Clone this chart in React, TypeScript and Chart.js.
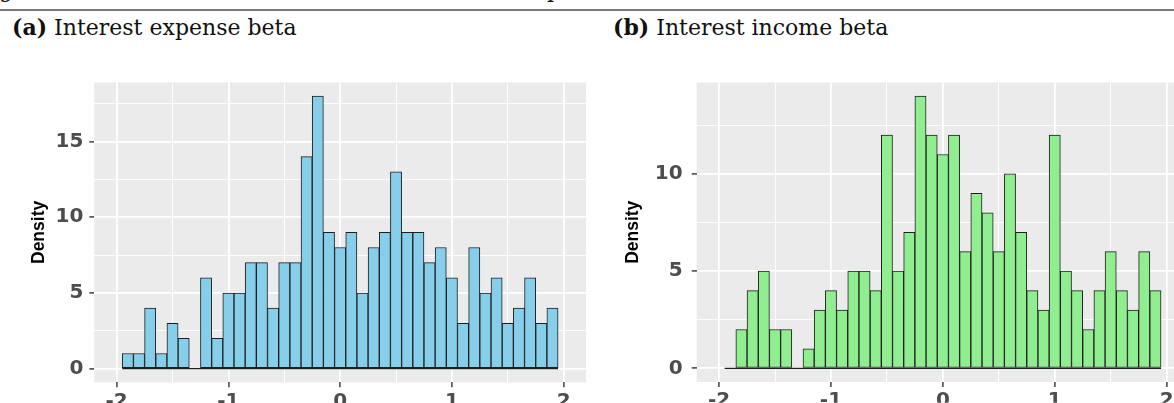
import React, { useEffect, useRef } from 'react';
import { Chart, registerables } from 'chart.js';

Chart.register(...registerables);

// ---- data ----
const binCenters = [
  -1.9, -1.8, -1.7, -1.6, -1.5, -1.4, -1.3, -1.2, -1.1, -1.0,
  -0.9, -0.8, -0.7, -0.6, -0.5, -0.4, -0.3, -0.2, -0.1, 0.0,
  0.1, 0.2, 0.3, 0.4, 0.5, 0.6, 0.7, 0.8, 0.9, 1.0,
  1.1, 1.2, 1.3, 1.4, 1.5, 1.6, 1.7, 1.8, 1.9,
];
const binWidth = 0.1;
const expenseCounts = [
  1, 1, 4, 1, 3, 2, 0, 6, 2, 5,
  5, 7, 7, 4, 7, 7, 14, 18, 9, 8,
  9, 5, 8, 9, 13, 9, 9, 7, 8, 6,
  3, 8, 5, 6, 3, 4, 6, 3, 4,
];
const incomeCounts = [
  0, 2, 4, 5, 2, 2, 0, 1, 3, 4,
  3, 5, 5, 4, 12, 5, 7, 14, 12, 11,
  12, 6, 9, 8, 6, 10, 7, 4, 3, 12,
  5, 4, 2, 4, 6, 4, 3, 6, 4,
];
const xGridValues = [-2, -1.5, -1, -0.5, 0, 0.5, 1, 1.5, 2];
const xMajorTicks = [-2, -1, 0, 1, 2];
const expenseYGrid = [0, 2.5, 5, 7.5, 10, 12.5, 15, 17.5];
const expenseYMajor = [0, 5, 10, 15];
const incomeYGrid = [0, 2.5, 5, 7.5, 10, 12.5];
const incomeYMajor = [0, 5, 10];
const yTitle = 'Density';

const TICK_FONT = "'DejaVu Sans', 'Liberation Sans', sans-serif";
const TITLE_FONT = "'Liberation Sans', Arial, sans-serif";
const SERIF = "'DejaVu Serif', serif";

const panelPlugin = {
  id: 'panelBg',
  beforeDraw(chart: any) {
    const { ctx, chartArea: a } = chart;
    ctx.save();
    ctx.fillStyle = '#EBEBEB';
    ctx.fillRect(a.left, a.top, a.right - a.left, a.bottom - a.top);
    ctx.restore();
  },
};

const baselinePlugin = {
  id: 'histBaseline',
  afterDatasetsDraw(chart: any) {
    const { ctx } = chart;
    const xs = chart.scales.x;
    const ys = chart.scales.y;
    const x0 = xs.getPixelForValue(binCenters[0] - binWidth / 2);
    const x1 = xs.getPixelForValue(binCenters[binCenters.length - 1] + binWidth / 2);
    const y = ys.getPixelForValue(0);
    ctx.save();
    ctx.strokeStyle = '#1E1E1E';
    ctx.lineWidth = 1.4;
    ctx.beginPath();
    ctx.moveTo(x0, y);
    ctx.lineTo(x1, y);
    ctx.stroke();
    ctx.restore();
  },
};

type HistProps = {
  counts: number[];
  color: string;
  yMin: number;
  yMax: number;
  yGrid: number[];
  yMajor: number[];
  width: number;
  height: number;
  yAxisWidth: number;
  padTop: number;
  padRight: number;
  xAxisHeight: number;
  titlePad: number;
  yTickPad: number;
};

function Histogram(p: HistProps) {
  const ref = useRef<HTMLCanvasElement>(null);
  useEffect(() => {
    const chart = new Chart(ref.current as HTMLCanvasElement, {
      type: 'bar',
      data: {
        datasets: [
          {
            data: binCenters.map((c, i) => ({ x: c, y: p.counts[i] })),
            backgroundColor: p.color,
            borderColor: '#1E1E1E',
            borderWidth: 1,
            borderSkipped: false,
            barPercentage: 1,
            categoryPercentage: 1,
          } as any,
        ],
      },
      options: {
        animation: false,
        responsive: false,
        devicePixelRatio: 1,
        events: [],
        layout: { padding: { left: 0, top: p.padTop, right: p.padRight, bottom: 0 } },
        plugins: { legend: { display: false }, tooltip: { enabled: false } },
        scales: {
          x: {
            type: 'linear',
            min: -2.2,
            max: 2.2,
            offset: false,
            afterBuildTicks: (s: any) => {
              s.ticks = xGridValues.map((v) => ({ value: v }));
            },
            afterFit: (s: any) => {
              s.height = p.xAxisHeight;
            },
            border: { display: false },
            grid: {
              offset: false,
              color: '#FFFFFF',
              lineWidth: (c: any) => (xMajorTicks.includes(c.tick?.value) ? 1.8 : 0.9),
              drawTicks: true,
              tickLength: 5,
              tickWidth: 1.4,
              tickColor: (c: any) => (xMajorTicks.includes(c.tick?.value) ? '#333333' : 'rgba(0,0,0,0)'),
            },
            ticks: {
              autoSkip: false,
              maxRotation: 0,
              padding: 2,
              color: '#4D4D4D',
              font: { family: TICK_FONT, size: 20, weight: 'bold', lineHeight: 1.2 },
              callback: (v: any) => (xMajorTicks.includes(Number(v)) ? String(v) : ''),
            },
          },
          y: {
            type: 'linear',
            min: p.yMin,
            max: p.yMax,
            afterBuildTicks: (s: any) => {
              s.ticks = p.yGrid.map((v) => ({ value: v }));
            },
            afterFit: (s: any) => {
              s.width = p.yAxisWidth;
            },
            border: { display: false },
            grid: {
              color: '#FFFFFF',
              lineWidth: (c: any) => (p.yMajor.includes(c.tick?.value) ? 1.8 : 0.9),
              drawTicks: true,
              tickLength: 5,
              tickWidth: 1.4,
              tickColor: (c: any) => (p.yMajor.includes(c.tick?.value) ? '#333333' : 'rgba(0,0,0,0)'),
            },
            title: {
              display: true,
              text: yTitle,
              color: '#000000',
              padding: { top: p.titlePad, bottom: 0 },
              font: { family: TITLE_FONT, size: 17.5, weight: 'bold', lineHeight: 1.2 },
            },
            ticks: {
              autoSkip: false,
              padding: p.yTickPad,
              color: '#4D4D4D',
              font: { family: TICK_FONT, size: 20, weight: 'bold', lineHeight: 1.2 },
              callback: (v: any) => (p.yMajor.includes(Number(v)) ? String(v) : ''),
            },
          },
        },
      } as any,
      plugins: [panelPlugin, baselinePlugin],
    });
    return () => chart.destroy();
  }, []);
  return (
    <canvas
      ref={ref}
      width={p.width}
      height={p.height}
      style={{ display: 'block', width: p.width, height: p.height }}
    />
  );
}

const titleStyle: React.CSSProperties = {
  position: 'absolute',
  top: 16.4,
  fontFamily: SERIF,
  fontSize: 22,
  lineHeight: '22px',
  color: '#111',
  whiteSpace: 'nowrap',
};

export default function App() {
  return (
    <div
      style={{
        position: 'absolute',
        left: 0,
        top: 0,
        width: 1174,
        height: 403,
        overflow: 'hidden',
        background: '#FFFFFF',
      }}
    >
      <div style={{ position: 'absolute', left: 0, top: 0, width: 1174, height: 9, overflow: 'hidden' }}>
        <span style={{ ...titleStyle, top: -20.6, left: -1 }}>g</span>
        <span style={{ ...titleStyle, top: -20.6, left: 547 }}>p</span>
      </div>
      <div style={{ position: 'absolute', left: 0, top: 9, width: 1174, height: 2, background: '#7A7A7A' }} />
      <div style={{ ...titleStyle, left: 12 }}>
        <b>(a)</b> Interest expense beta
      </div>
      <div style={{ ...titleStyle, left: 613 }}>
        <b>(b)</b> Interest income beta
      </div>
      <div style={{ position: 'absolute', left: 0, top: 50 }}>
        <Histogram
          counts={expenseCounts}
          color="#87CEEB"
          yMin={-0.9}
          yMax={18.9}
          yGrid={expenseYGrid}
          yMajor={expenseYMajor}
          width={600}
          height={353}
          yAxisWidth={94.3}
          padTop={32.5}
          padRight={14}
          xAxisHeight={20.7}
          titlePad={28.8}
          yTickPad={6}
        />
      </div>
      <div style={{ position: 'absolute', left: 600, top: 50 }}>
        <Histogram
          counts={incomeCounts}
          color="#90EE90"
          yMin={-0.7}
          yMax={14.7}
          yGrid={incomeYGrid}
          yMajor={incomeYMajor}
          width={594}
          height={353}
          yAxisWidth={96.7}
          padTop={32.5}
          padRight={5}
          xAxisHeight={20.7}
          titlePad={22.8}
          yTickPad={9}
        />
      </div>
    </div>
  );
}
